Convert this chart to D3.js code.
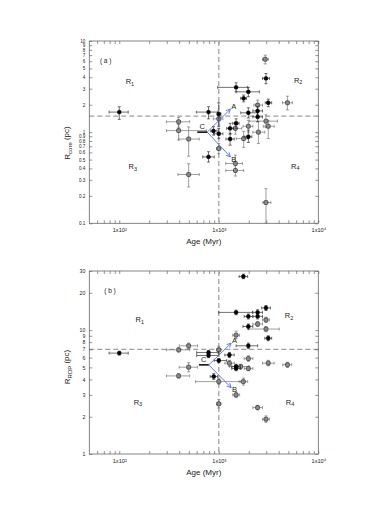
<!DOCTYPE html>
<html>
<head>
<meta charset="utf-8">
<script src="https://cdn.jsdelivr.net/npm/d3@7"></script>
<style>
  body { margin: 0; background: #fff; }
  svg text { font-family: "Liberation Sans", Arial, sans-serif; fill: #222; }
</style>
</head>
<body>
<div id="graph"></div>
<script>
var width = 382, height = 518

// [age, ageLo, ageHi, r, rLo, rHi]
var blackA = [
  [100, 79, 123, 1.66, 1.38, 1.9],
  [789, 595, 977, 1.66, 1.4, 1.9],
  [789, 690, 900, 0.535, 0.47, 0.61],
  [885, 830, 960, 1.03, 0.93, 1.15],
  [1000, 960, 1050, 1.58, 1.15, 2.1],
  [1000, 900, 1100, 0.96, 0.85, 1.1],
  [1493, 975, 1950, 3.1, 2.77, 3.48],
  [1982, 1493, 2558, 2.77, 2.45, 3.1],
  [1778, 1660, 1900, 2.35, 2.15, 2.55],
  [2980, 2750, 3230, 3.89, 3.4, 4.4],
  [3141, 2930, 3400, 2.1, 1.9, 2.3],
  [2455, 2200, 2750, 1.71, 1.55, 1.9],
  [1982, 1664, 2455, 1.63, 1.43, 1.85],
  [2455, 2200, 2750, 1.47, 1.3, 1.65],
  [1493, 1380, 1600, 1.25, 1.1, 1.4],
  [1300, 1200, 1400, 1.1, 0.95, 1.25],
  [1300, 1180, 1430, 0.84, 0.72, 0.97],
  [1982, 1800, 2150, 0.89, 0.77, 1.05]
]
var grayA = [
  [395, 298, 510, 1.30, 1.13, 1.45],
  [395, 298, 750, 1.04, 0.82, 1.21],
  [498, 395, 637, 0.84, 0.545, 1.14],
  [498, 389, 637, 0.343, 0.25, 0.45],
  [1000, 880, 1100, 1.40, 1.2, 1.6],
  [1000, 950, 1050, 0.66, 0.58, 0.75],
  [2931, 2750, 3150, 6.3, 5.6, 7.0],
  [4898, 4365, 5495, 2.1, 1.75, 2.48],
  [2455, 2250, 2750, 1.98, 1.7, 2.25],
  [2980, 2030, 3890, 1.32, 1.12, 1.55],
  [3141, 2800, 3600, 1.16, 0.85, 1.35],
  [2500, 2200, 2900, 1.0, 0.75, 1.3],
  [1982, 1750, 2200, 1.16, 1.0, 1.35],
  [1778, 1500, 1980, 0.85, 0.68, 1.02],
  [1469, 1250, 1700, 1.1, 0.95, 1.25],
  [1469, 1175, 1730, 0.453, 0.37, 0.56],
  [1469, 1175, 1780, 0.38, 0.33, 0.46],
  [2980, 2770, 3340, 0.169, 0.1, 0.24]
]

var blackB = [
  [100, 79, 123, 6.52, 6.3, 6.75],
  [789, 600, 1000, 6.59, 6.35, 6.85],
  [789, 600, 1000, 6.24, 6.0, 6.5],
  [1000, 900, 1200, 5.68, 5.45, 5.9],
  [890, 820, 970, 4.22, 4.0, 4.45],
  [1766, 1600, 1950, 27.1, 26, 28.3],
  [1493, 1000, 2178, 13.9, 13.3, 14.5],
  [1982, 1800, 2200, 12.9, 12.3, 13.5],
  [2455, 2200, 2750, 13.9, 13.2, 14.6],
  [2455, 2200, 2750, 12.9, 12.3, 13.5],
  [2980, 2700, 3300, 15.1, 14.4, 15.8],
  [1982, 1750, 2200, 10.7, 10.2, 11.2],
  [3141, 2900, 3400, 8.6, 8.2, 9.0],
  [1982, 1493, 2455, 7.47, 7.1, 7.85],
  [1279, 1150, 1430, 6.3, 6.0, 6.6],
  [1493, 1350, 1650, 5.08, 4.85, 5.3],
  [1493, 1350, 1650, 4.9, 4.7, 5.1]
]
var grayB = [
  [395, 298, 510, 6.93, 6.65, 7.2],
  [498, 400, 610, 7.47, 7.1, 7.85],
  [498, 400, 610, 5.02, 4.6, 5.45],
  [395, 298, 510, 4.27, 4.1, 4.45],
  [1000, 950, 1050, 6.93, 6.5, 7.4],
  [1000, 584, 1664, 3.84, 3.65, 4.05],
  [1000, 950, 1050, 2.54, 2.35, 2.75],
  [2980, 2750, 3230, 12.1, 11.5, 12.7],
  [2455, 2200, 2750, 11.2, 10.7, 11.7],
  [2980, 1982, 4050, 10.2, 9.7, 10.7],
  [1493, 1380, 1620, 9.1, 8.5, 9.8],
  [1982, 1800, 2200, 5.89, 5.6, 6.2],
  [1279, 1150, 1430, 5.41, 5.1, 5.7],
  [1660, 1280, 2000, 5.08, 4.85, 5.3],
  [1982, 1800, 2200, 4.9, 4.7, 5.1],
  [3141, 2750, 3600, 5.41, 5.15, 5.7],
  [4898, 4400, 5400, 5.25, 5.0, 5.5],
  [1766, 1600, 1950, 3.84, 3.6, 4.1],
  [1493, 1380, 1620, 3.0, 2.85, 3.15],
  [2455, 2200, 2750, 2.37, 2.27, 2.47],
  [2980, 2750, 3230, 1.91, 1.8, 2.03]
]

var xTicks = [60, 70, 80, 90, 100, 200, 300, 400, 500, 600, 700, 800, 900,
  1000, 2000, 3000, 4000, 5000, 6000, 7000, 8000, 9000, 10000]
var xLabels = {100: '1x10²', 1000: '1x10³', 10000: '1x10⁴'}
var yTicksA = [0.1, 0.2, 0.3, 0.4, 0.5, 0.6, 0.7, 0.8, 0.9, 1, 2, 3, 4, 5, 6, 7, 8, 9, 10]
var yTicksB = [1, 2, 3, 4, 5, 6, 7, 8, 9, 10, 20, 30]

// region labels [age, r, name, sub]
var regionsA = [[128, 3.57, 'R', '1'], [6270, 3.72, 'R', '2'], [137, 0.416, 'R', '3'], [5870, 0.426, 'R', '4']]
var regionsB = [[161, 12.1, 'R', '1'], [5090, 13.1, 'R', '2'], [154, 2.63, 'R', '3'], [5200, 2.63, 'R', '4']]

// arrows: C start, C origin, A end, B end
var arrowsA = {c0: [608, 1.0], c: [766, 1.0], a: [1309, 1.79], b: [1309, 0.535]}
var arrowsB = {c0: [631, 5.24], c: [794, 5.24], a: [1331, 7.85], b: [1331, 3.43]}

var svg = d3.select('#graph').append('svg')
    .attr('width', width).attr('height', height)

var defs = svg.append('defs')
defs.append('marker')
    .attr('id', 'head').attr('viewBox', '0 0 10 10')
    .attr('refX', 9).attr('refY', 5)
    .attr('markerWidth', 6).attr('markerHeight', 6)
    .attr('orient', 'auto')
  .append('path')
    .attr('d', 'M1,1L9,5L1,9')
    .attr('fill', 'none').attr('stroke', '#4a6cf0').attr('stroke-width', 1.5)

var x = d3.scaleLog().domain([50, 10000]).range([89.3, 318.3])

function panel(cfg){
  var y = d3.scaleLog().domain(cfg.yDomain).range(cfg.yRange)
  var g = svg.append('g')
  var x0 = x.range()[0], x1 = x.range()[1]
  var y0 = y.range()[0], y1 = y.range()[1]

  // frame
  g.append('rect')
      .attr('x', x0).attr('y', y1).attr('width', x1 - x0).attr('height', y0 - y1)
      .attr('fill', 'none').attr('stroke', '#666').attr('stroke-width', 0.8)

  var fmtX = function(d){ return xLabels[d] || '' }

  var ax = g.append('g').attr('transform', 'translate(0,' + y0 + ')')
      .call(d3.axisBottom(x).tickValues(xTicks).tickSize(-3).tickPadding(5).tickFormat(fmtX))
  g.append('g').attr('transform', 'translate(0,' + y1 + ')')
      .call(d3.axisTop(x).tickValues(xTicks).tickSize(-3).tickFormat(''))
  var ay = g.append('g').attr('transform', 'translate(' + x0 + ',0)')
      .call(d3.axisLeft(y).tickValues(cfg.yTicks).tickSize(-3).tickPadding(4).tickFormat(d3.format('~g')))
  g.append('g').attr('transform', 'translate(' + x1 + ',0)')
      .call(d3.axisRight(y).tickValues(cfg.yTicks).tickSize(-3).tickFormat(''))

  g.selectAll('.domain').remove()
  g.selectAll('.tick line').attr('stroke', '#666').attr('stroke-width', 0.7)
  g.selectAll('.tick text').attr('fill', '#333')
      .style('font-family', '"Liberation Sans", Arial, sans-serif')
  ay.selectAll('.tick text').attr('font-size', cfg.tickFont)
  ax.selectAll('.tick text').attr('font-size', 5.6)

  // dashed guides
  g.append('line')
      .attr('x1', x(1000)).attr('x2', x(1000)).attr('y1', y1).attr('y2', y0)
      .attr('stroke', '#aaa').attr('stroke-width', 1.4).attr('stroke-dasharray', '5,3')
  g.append('line')
      .attr('x1', x0).attr('x2', x1).attr('y1', y(cfg.hline)).attr('y2', y(cfg.hline))
      .attr('stroke', '#555').attr('stroke-width', 0.7).attr('stroke-dasharray', '5,3')

  // points with error bars
  function drawSet(data, bar, fill, stroke, rad){
    var s = g.append('g')
    var cap = 1.5
    data.forEach(function(d){
      var px = x(d[0]), py = y(d[3])
      var segs = [
        [x(d[1]), py, x(d[2]), py],
        [px, y(d[4]), px, y(d[5])],
        [x(d[1]), py - cap, x(d[1]), py + cap],
        [x(d[2]), py - cap, x(d[2]), py + cap],
        [px - cap, y(d[4]), px + cap, y(d[4])],
        [px - cap, y(d[5]), px + cap, y(d[5])]
      ]
      s.selectAll(null).data(segs).enter().append('line')
          .attr('x1', function(e){ return e[0] }).attr('y1', function(e){ return e[1] })
          .attr('x2', function(e){ return e[2] }).attr('y2', function(e){ return e[3] })
          .attr('stroke', bar).attr('stroke-width', 0.7)
    })
    s.selectAll('rect').data(data).enter().append('rect')
        .attr('x', function(d){ return x(d[0]) - rad })
        .attr('y', function(d){ return y(d[3]) - rad })
        .attr('width', rad * 2).attr('height', rad * 2)
        .attr('rx', rad * 0.6)
        .attr('fill', fill).attr('stroke', stroke).attr('stroke-width', 0.7)
  }
  drawSet(cfg.gray, '#777', '#8a8a8a', '#333', 2.0)
  drawSet(cfg.black, '#333', '#000', '#000', 1.7)

  // arrows
  var ar = cfg.arrows
  g.append('line')
      .attr('x1', x(ar.c0[0])).attr('y1', y(ar.c0[1]))
      .attr('x2', x(ar.c[0])).attr('y2', y(ar.c[1]))
      .attr('stroke', '#000').attr('stroke-width', 1.5)
  ;[ar.a, ar.b].forEach(function(e){
    g.append('line')
        .attr('x1', x(ar.c[0])).attr('y1', y(ar.c[1]))
        .attr('x2', x(e[0])).attr('y2', y(e[1]))
        .attr('stroke', '#4a6cf0').attr('stroke-width', 0.9)
        .attr('marker-end', 'url(#head)')
  })
  var lbl = [['C', ar.c0[0] * 1.07, ar.c[1], -6], ['A', ar.a[0] * 1.03, ar.a[1], -3], ['B', ar.b[0] * 1.03, ar.b[1], 2]]
  g.selectAll('text.ab').data(lbl).enter().append('text')
      .attr('class', 'ab')
      .attr('x', function(d){ return x(d[1]) + 2 })
      .attr('y', function(d){ return y(d[2]) + d[3] })
      .attr('dy', '0.35em').attr('text-anchor', 'middle')
      .attr('font-size', 7.5)
      .text(function(d){ return d[0] })

  // region labels
  var rt = g.selectAll('text.reg').data(cfg.regions).enter().append('text')
      .attr('class', 'reg')
      .attr('x', function(d){ return x(d[0]) })
      .attr('y', function(d){ return y(d[1]) })
      .attr('dy', '0.35em').attr('text-anchor', 'middle')
      .attr('font-size', 7.5)
  rt.append('tspan').text(function(d){ return d[2] })
  rt.append('tspan').attr('font-size', 5.5).attr('dy', '0.25em').text(function(d){ return d[3] })

  g.append('text')
      .attr('x', x(cfg.tag[0])).attr('y', y(cfg.tag[1]))
      .attr('dy', '0.35em').attr('text-anchor', 'middle')
      .attr('font-size', 6.5)
      .text(cfg.tag[2])

  // axis titles
  g.append('text')
      .attr('x', (x0 + x1) / 2).attr('y', y0 + 21)
      .attr('text-anchor', 'middle').attr('font-size', 8)
      .text('Age (Myr)')
  var yt = g.append('text')
      .attr('transform', 'translate(' + 70 + ',' + cfg.yTitleY + ') rotate(-90)')
      .attr('text-anchor', 'middle').attr('font-size', 8)
  yt.append('tspan').text('R')
  yt.append('tspan').attr('font-size', 6).attr('dy', '0.3em').text(cfg.sub)
  yt.append('tspan').attr('dy', '-0.3em').text(' (pc)')
}

panel({
  yDomain: [0.1, 10], yRange: [223.3, 41], yTicks: yTicksA, hline: 1.5, tickFont: 4.6,
  black: blackA, gray: grayA, arrows: arrowsA, regions: regionsA,
  tag: [73, 6.07, '( a )'], sub: 'core', yTitleY: 143
})
panel({
  yDomain: [1, 30], yRange: [454, 271], yTicks: yTicksB, hline: 7, tickFont: 5.2,
  black: blackB, gray: grayB, arrows: arrowsB, regions: regionsB,
  tag: [80.7, 20.8, '( b )'], sub: 'RDP', yTitleY: 367
})
</script>
</body>
</html>
